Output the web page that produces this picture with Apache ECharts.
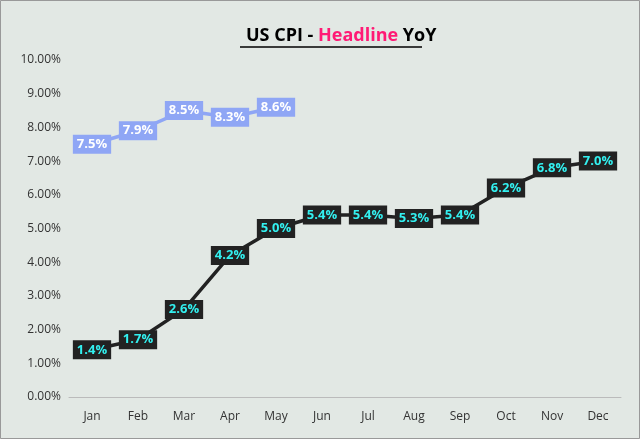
<!DOCTYPE html><html><head><meta charset="utf-8"><script src="https://cdn.jsdelivr.net/npm/echarts@6/dist/echarts.min.js"></script>
<style>html,body{margin:0;padding:0;background:#e2e8e4}#c{width:640px;height:439px}</style></head><body><div id="c"></div><script>
const categories=['Jan','Feb','Mar','Apr','May','Jun','Jul','Aug','Sep','Oct','Nov','Dec'];
const cpi2021=[1.4,1.7,2.6,4.2,5.0,5.4,5.4,5.3,5.4,6.2,6.8,7.0];
const cpi2022=[7.5,7.9,8.5,8.3,8.6];
const yTicks=[0,1,2,3,4,5,6,7,8,9,10];
const ch=echarts.init(document.getElementById('c'));
function lab(bg,fg){return {show:true,position:'inside',formatter:p=>p.value.toFixed(1)+'%',backgroundColor:bg,color:fg,fontFamily:'Open Sans',fontWeight:'bold',fontSize:13,padding:[4,4,2,4]};}
ch.setOption({
backgroundColor:'#e2e8e4',
title:{left:241,top:22,text:'{a|US CPI - }{b|Headline}{a| YoY}',textStyle:{rich:{a:{fontFamily:'Open Sans',fontWeight:'bold',fontSize:18,color:'#000'},b:{fontFamily:'Open Sans',fontWeight:'bold',fontSize:18,color:'#ff1a75'}}}},
graphic:[{type:'line',shape:{x1:240,y1:47,x2:422,y2:47},style:{stroke:'#000',lineWidth:1.5}},
{type:'rect',shape:{x:0.5,y:0.5,width:639,height:438},style:{fill:'none',stroke:'#999',lineWidth:1}}],
grid:{left:69,right:19,top:60,bottom:42},
xAxis:{type:'category',data:categories,axisTick:{show:false},axisLine:{lineStyle:{color:'#bbb'}},axisLabel:{color:'#333',fontFamily:'Open Sans',fontSize:12,margin:14}},
yAxis:{type:'value',min:0,max:10,interval:1,splitLine:{show:false},axisLine:{show:false},axisLabel:{color:'#333',fontFamily:'Open Sans',fontSize:12,formatter:v=>v.toFixed(2)+'%'}},
series:[
{type:'line',data:cpi2021,symbol:'circle',symbolSize:1,showSymbol:true,itemStyle:{color:'#222'},lineStyle:{color:'#222',width:3.5},label:lab('#222','#33f0f0'),z:3},
{type:'line',data:cpi2022,symbol:'circle',symbolSize:1,showSymbol:true,itemStyle:{color:'#8fa6f5'},lineStyle:{color:'#8fa6f5',width:3.5},label:lab('#8fa6f5','#fff'),z:3}
]});
</script></body></html>
